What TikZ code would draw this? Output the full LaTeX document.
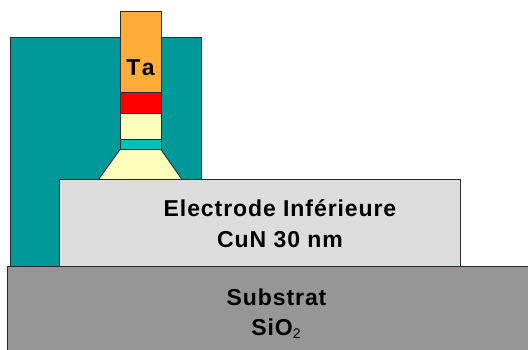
\documentclass[tikz,border=0pt]{standalone}
\usepackage{fontspec}
\setmainfont{Liberation Sans}[LetterSpace=4]
\definecolor{tealdark}{HTML}{009999}
\definecolor{tealmid}{HTML}{00C0B8}
\definecolor{orangeTa}{HTML}{FFAD39}
\definecolor{paleyellow}{HTML}{FFFFBB}
\definecolor{elecgrey}{HTML}{DDDDDD}
\definecolor{subgrey}{HTML}{969696}
\definecolor{edge}{HTML}{222E2E}
\tikzset{
  layer/.style={draw=edge,line width=0.9bp,line join=miter},
  lbl/.style={inner sep=0pt,anchor=base,font=\fontsize{23bp}{26bp}\selectfont\bfseries,text=black}
}
\begin{document}
\begin{tikzpicture}[x=1bp,y=-1bp]
\useasboundingbox[fill=white] (0,0) rectangle (528,349);
\begin{scope}
\clip (0,0) rectangle (528,349);
\draw[layer,fill=tealdark] (10.5,37) rectangle (201,268);
\draw[layer,fill=paleyellow] (120,149.5) -- (161,149.5) -- (182,179.5) -- (98.5,179.5) -- cycle;
\draw[layer,fill=orangeTa] (120,11) rectangle (161,92.5);
\draw[layer,fill=red] (120,92.5) rectangle (161,113.5);
\draw[layer,fill=paleyellow] (120,113.5) rectangle (161,139);
\draw[layer,fill=tealmid] (120,139) rectangle (161,149.5);
\draw[layer,fill=elecgrey] (59,179.5) rectangle (460.5,267);
\draw[layer,fill=subgrey] (7.5,266.5) rectangle (540,360);
\end{scope}
\node[lbl] (ta) at (140.5,75) {T\kern1.5bp a};
\node[lbl] (elec) at (280,216.7) {Electrode Inférieure};
\node[lbl] (cun) at (280,247.7) {CuN 30 nm};
\node[lbl] (sub) at (276.5,305) {Substrat};
\node[lbl] (sio) at (276,335) {SiO\raisebox{-0.3ex}{\fontsize{14bp}{16bp}\selectfont\mdseries 2}};
\end{tikzpicture}
\end{document}
